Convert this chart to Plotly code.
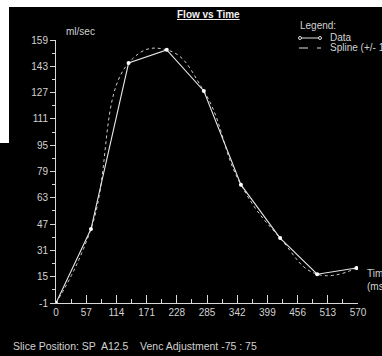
import plotly.graph_objects as go

# ---- data ----
time_ms = [0, 66, 137, 209, 279, 349, 423, 493, 567]
flow_ml_s = [-1, 44, 145, 153, 128, 71, 38.5, 16.5, 20.3]

x_ticks = [0, 57, 114, 171, 228, 285, 342, 399, 456, 513, 570]
y_ticks = [-1, 15, 31, 47, 63, 79, 95, 111, 127, 143, 159]

title_text = "Flow vs Time"
y_unit = "ml/sec"
x_unit = ["Time", "(ms)"]
legend_title = "Legend:"
legend_items = ["Data", "Spline (+/- 1"]
footer_text = "Slice Position: SP  A12.5&nbsp;&nbsp;&nbsp;&nbsp;Venc Adjustment -75 : 75"

# ---- layout geometry (pixels) ----
W, H = 382, 356
L, R, T, B = 56, 24, 40, 53
PW, PH = W - L - R, H - T - B

def px(xp):
    return (xp - L) / PW

def py(yp):
    return (H - B - yp) / PH

FONT = "Liberation Sans, Arial, sans-serif"
TXT = "#d2d2d2"
LINE = "#d8d8d8"

fig = go.Figure()

fig.add_trace(go.Scatter(
    x=time_ms, y=flow_ml_s, mode="lines",
    line=dict(color="#cfcfcf", width=1, dash="dot", shape="spline", smoothing=1.3),
    hoverinfo="skip", showlegend=False,
))
fig.add_trace(go.Scatter(
    x=time_ms, y=flow_ml_s, mode="lines+markers",
    line=dict(color="#e6e6e6", width=1.1),
    marker=dict(color="#ffffff", size=4, symbol="circle"),
    showlegend=False,
))

shapes = [
    # white screenshot borders
    dict(type="rect", xref="paper", yref="paper", x0=px(0), x1=px(W), y0=py(0), y1=py(7),
         fillcolor="white", line=dict(width=0), layer="above"),
    dict(type="rect", xref="paper", yref="paper", x0=px(0), x1=px(9), y0=py(0), y1=py(143),
         fillcolor="white", line=dict(width=0), layer="above"),
    # legend swatches
    dict(type="line", xref="paper", yref="paper", x0=px(300), x1=px(320), y0=py(38), y1=py(38),
         line=dict(color="#e0e0e0", width=1)),
    dict(type="circle", xref="paper", yref="paper", x0=px(298.5), x1=px(301.5), y0=py(36.5), y1=py(39.5),
         line=dict(color="#e0e0e0", width=1), fillcolor="black"),
    dict(type="circle", xref="paper", yref="paper", x0=px(318.5), x1=px(321.5), y0=py(36.5), y1=py(39.5),
         line=dict(color="#e0e0e0", width=1), fillcolor="black"),
    dict(type="line", xref="paper", yref="paper", x0=px(299), x1=px(321), y0=py(48), y1=py(48),
         line=dict(color="#e0e0e0", width=1, dash="dash")),
]

def ann(text, x, y, xanchor="left", size=10, color=TXT):
    return dict(text=text, xref="paper", yref="paper", x=px(x), y=py(y),
                xanchor=xanchor, yanchor="middle", showarrow=False,
                font=dict(family=FONT, size=size, color=color))

annotations = [
    ann("<b><u>" + title_text + "</u></b>", 208, 14, xanchor="center", size=10, color="#f0f0f0"),
    ann(y_unit, 64, 31),
    ann(legend_title, 298, 25),
    ann(legend_items[0], 328, 37),
    ann(legend_items[1], 328, 47),
    dict(text=x_unit[0] + "<br>" + x_unit[1], xref="paper", yref="paper",
         x=px(365), y=py(279.5), xanchor="left", yanchor="middle", align="left",
         showarrow=False, font=dict(family=FONT, size=10, color=TXT)),
    ann(footer_text, 11, 346, size=10.5),
]

fig.update_layout(
    width=W, height=H,
    margin=dict(l=L, r=R, t=T, b=B, pad=0),
    paper_bgcolor="black", plot_bgcolor="black",
    shapes=shapes, annotations=annotations,
    showlegend=False,
    xaxis=dict(
        range=[0, 570], tickvals=x_ticks, ticktext=[str(v) for v in x_ticks],
        ticks="inside", ticklen=8, tickcolor=LINE, tickwidth=1,
        minor=dict(ticks="inside", ticklen=4, dtick=28.5, tick0=0, tickcolor=LINE),
        showline=True, linecolor=LINE, linewidth=1,
        showgrid=False, zeroline=False,
        tickfont=dict(family=FONT, size=10, color=TXT),
    ),
    yaxis=dict(
        range=[-1, 159], tickvals=y_ticks, ticktext=[str(v) for v in y_ticks],
        ticks="outside", ticklen=5, tickcolor=LINE, tickwidth=1,
        minor=dict(ticks="outside", ticklen=3, dtick=8, tick0=-1, tickcolor=LINE),
        showline=True, linecolor=LINE, linewidth=1,
        showgrid=False, zeroline=False,
        tickfont=dict(family=FONT, size=10, color=TXT),
    ),
)

fig.write_html("out.html")
